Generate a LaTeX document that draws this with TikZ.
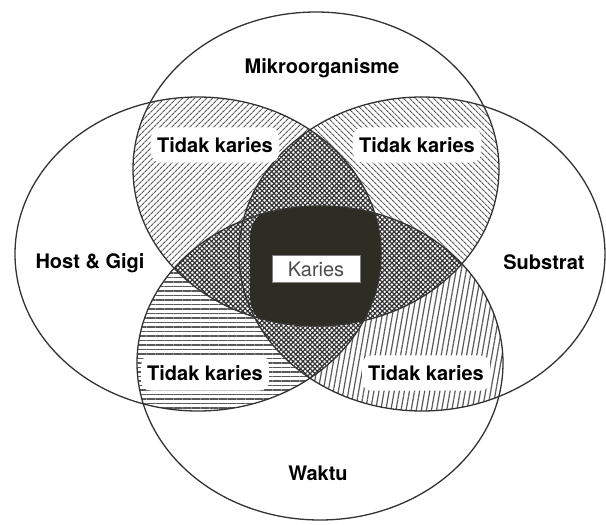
\documentclass[tikz,border=0pt]{standalone}
\usepackage{fontspec}
\setmainfont{TeX Gyre Heros}
\usepackage{tikz}
\usetikzlibrary{patterns.meta}

%% the four ellipses (image coordinates)
\def\topE{(316,169) ellipse [x radius=183pt, y radius=157pt]}
\def\botE{(320,363) ellipse [x radius=183pt, y radius=157pt]}
\def\leftE{(198,254) ellipse [x radius=183pt, y radius=157pt]}
\def\rightE{(422,254) ellipse [x radius=183pt, y radius=157pt]}

\tikzset{
    ring/.style = {draw = black!80, line width = 1.3pt},
    lens/.style = {preaction = {fill = white}, pattern = {Lines[#1]},
        pattern color = black!65},
    cross/.style = {preaction = {fill = white},
        pattern = {Hatch[angle = 45, distance = 3.4pt, line width = 1.2pt]},
        pattern color = black!80},
    core/.style = {fill = {rgb,255:red,45;green,45;blue,36}},
    tkbox/.style = {fill = white, rounded corners = 9pt, inner xsep = 6pt,
        inner ysep = 10pt},
    kbox/.style = {fill = white, draw = black!50, line width = 0.6pt,
        minimum width = 88pt, minimum height = 27pt, inner sep = 0pt,
        text = black!70, font = \fontsize{20}{24}\selectfont\mdseries}
}

\begin{document}
\begin{tikzpicture}[x = 1pt, y = -1pt, font = \fontsize{20}{24}\selectfont\bfseries]
    \useasboundingbox (0, 0) rectangle (606, 525);

    %% two-way regions
    \begin{scope}
        \clip \topE;
        \fill[lens = {angle = 45, distance = 4pt, line width = 1.2pt}] \leftE;
    \end{scope}
    \begin{scope}
        \clip \topE;
        \fill[lens = {angle = -45, distance = 4pt, line width = 1.2pt}] \rightE;
    \end{scope}
    \begin{scope}
        \clip \botE;
        \fill[lens = {angle = 0, distance = 4.5pt, line width = 1.2pt}] \leftE;
    \end{scope}
    \begin{scope}
        \clip \botE;
        \fill[lens = {angle = 80, distance = 5pt, line width = 1.2pt}] \rightE;
    \end{scope}

    %% three-way regions
    \begin{scope}
        \clip \topE; \clip \leftE;
        \fill[cross] \rightE;
    \end{scope}
    \begin{scope}
        \clip \topE; \clip \leftE;
        \fill[cross] \botE;
    \end{scope}
    \begin{scope}
        \clip \topE; \clip \rightE;
        \fill[cross] \botE;
    \end{scope}
    \begin{scope}
        \clip \botE; \clip \leftE;
        \fill[cross] \rightE;
    \end{scope}

    %% four-way region (rounded dark core)
    \begin{scope}
        \clip \topE; \clip \leftE; \clip \rightE; \clip \botE;
        \fill[core, rounded corners = 34pt] (250, 204) rectangle (384, 330);
    \end{scope}

    %% outlines
    \draw[ring] \topE;
    \draw[ring] \botE;
    \draw[ring] \leftE;
    \draw[ring] \rightE;

    %% labels
    \node (mikro) at (322, 68) {Mikroorganisme};
    \node (host) at (90, 263) {Host \& Gigi};
    \node (substrat) at (544, 262) {Substrat};
    \node (waktu) at (318, 473) {Waktu};
    \node[kbox] (karies) at (316, 269) {Karies};
    \node[tkbox] (tkml) at (215, 145) {Tidak karies};
    \node[tkbox] (tkms) at (417, 145) {Tidak karies};
    \node[tkbox] (tkhw) at (205, 373) {Tidak karies};
    \node[tkbox] (tksw) at (426, 373) {Tidak karies};
\end{tikzpicture}
\end{document}
